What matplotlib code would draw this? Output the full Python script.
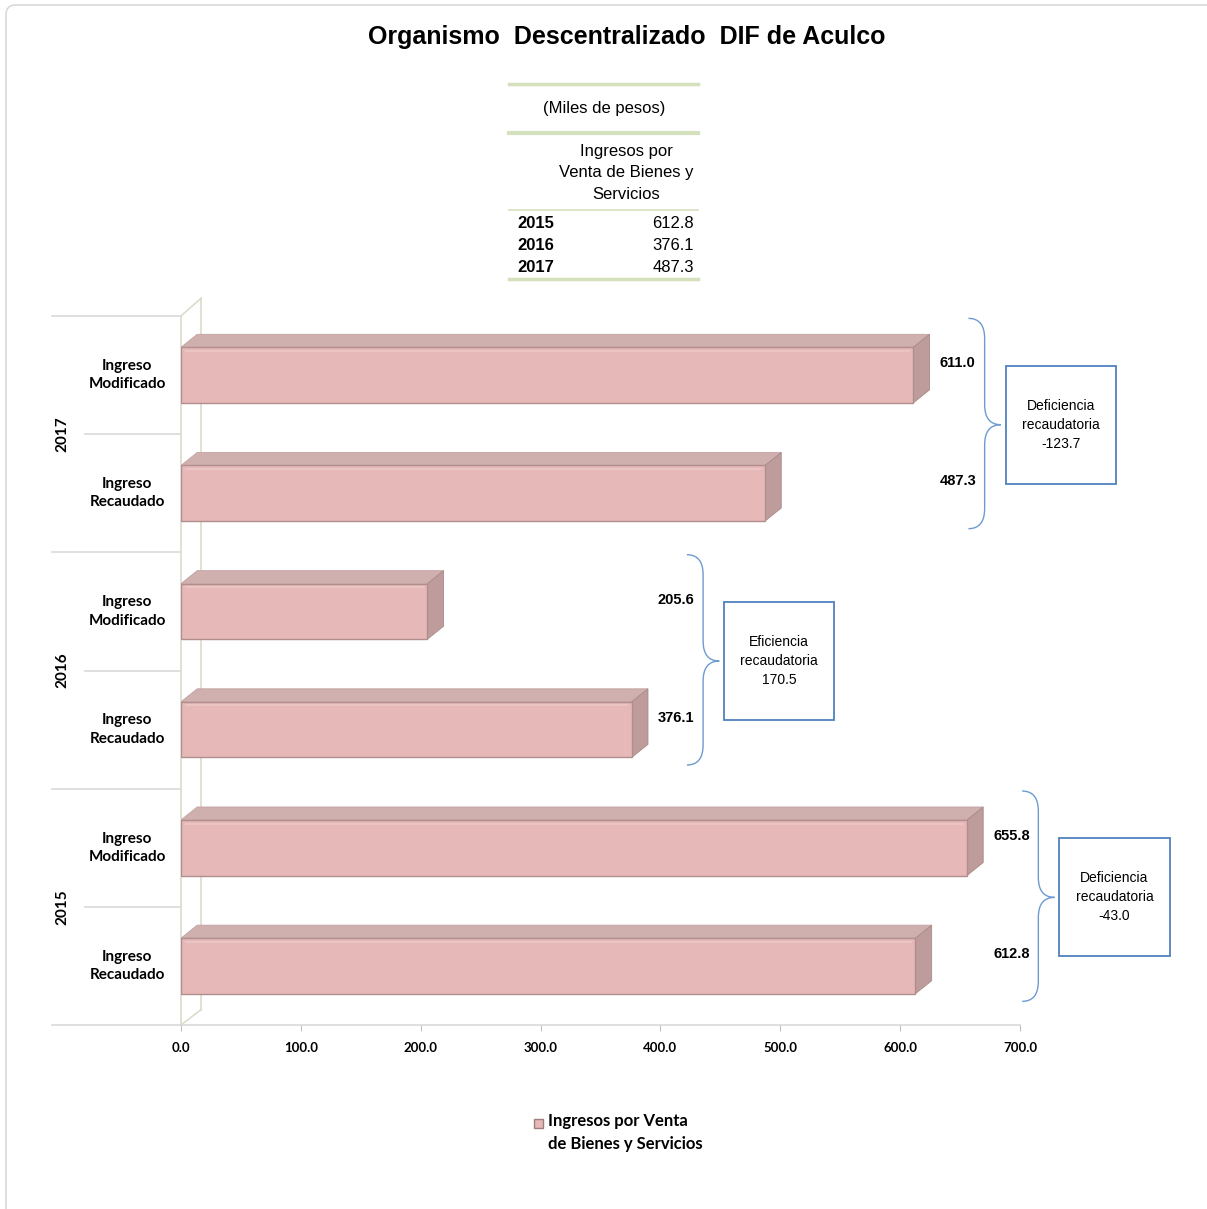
import numpy as np
import matplotlib
matplotlib.use("Agg")
import matplotlib.pyplot as plt
from matplotlib.patches import Polygon, Rectangle, FancyBboxPatch, PathPatch
from matplotlib.path import Path
from matplotlib.lines import Line2D

# data (miles de pesos)
years = ["2015", "2016", "2017"]
modificado = [655.8, 205.6, 611.0]
recaudado = [612.8, 376.1, 487.3]
cat_labels = ["Ingreso\nRecaudado", "Ingreso\nModificado"]
table_values = [612.8, 376.1, 487.3]
xticks = [0, 100, 200, 300, 400, 500, 600, 700]
legend_label = "Ingresos por Venta\nde Bienes y Servicios"

front = "#E6B9B8"
top_c = "#CFB0AF"
side_c = "#BE9C9B"
edge_c = "#B08E8D"
arial = ["Liberation Sans", "DejaVu Sans"]
calib = ["Lato", "DejaVu Sans"]

fig = plt.figure(figsize=(12.07, 12.09), dpi=100)
W, H = 1207, 1209

def fx(px):
    return px / W

def fy(py):
    return 1 - py / H

# frame around whole picture
fig.patches.append(FancyBboxPatch((fx(6), fy(1240)), fx(1240), fy(5) - fy(1240),
                                  boxstyle="round,pad=0,rounding_size=0.008",
                                  transform=fig.transFigure, fill=False, ec="#D9D9D9", lw=1.2))

ax = fig.add_axes([fx(181), fy(1025), fx(1020) - fx(181), fy(316) - fy(1025)])
ax.set_xlim(0, 700)
ax.set_ylim(-0.5, 5.5)

# bar order bottom->top: 2015 Rec, 2015 Mod, 2016 Rec, ...
vals = []
for r, m in zip(recaudado, modificado):
    vals += [r, m]
ypos = np.arange(len(vals))
h = 0.47
dx, dy = 13.5, 0.11  # 3d depth in data units

bars = ax.barh(ypos, vals, height=h, color=front, edgecolor=edge_c, lw=1.0, zorder=4,
               label=legend_label)
for y, v in zip(ypos, vals):
    yt = y + h / 2
    yb = y - h / 2
    ax.add_patch(Polygon([(0, yt), (v, yt), (v + dx, yt + dy), (dx, yt + dy)], closed=True,
                         fc=top_c, ec="#C2A3A2", lw=0.6, zorder=3))
    ax.add_patch(Polygon([(v, yb), (v + dx, yb + dy), (v + dx, yt + dy), (v, yt)], closed=True,
                         fc=side_c, ec="#A88988", lw=0.6, zorder=3))
    # soft highlight along top of the front face
    ax.plot([4, v - 4], [yt - 0.03, yt - 0.03], color="#ECC8C7", lw=1.2, zorder=5)

# back wall
wall_dx, wall_dy = 16.7, 0.15
ax.plot([wall_dx, wall_dx], [-0.5 + 0.13, 5.5 + wall_dy], color="#DCDCCB", lw=1.2, zorder=1, clip_on=False)
ax.plot([0, wall_dx], [5.5, 5.5 + wall_dy], color="#DCDCCB", lw=1.2, zorder=1, clip_on=False)
ax.plot([0, wall_dx], [-0.5, -0.5 + 0.13], color="#DCDCCB", lw=1.2, zorder=1, clip_on=False)

for s in ["top", "right"]:
    ax.spines[s].set_visible(False)
ax.spines["left"].set_color("#DCDCCB")
ax.spines["left"].set_linewidth(1.2)
ax.spines["bottom"].set_color("#D9D9D9")
ax.spines["bottom"].set_linewidth(1.2)

ax.set_yticks([])
ax.set_xticks(xticks)
ax.set_xticklabels([f"{t:.1f}" for t in xticks], fontsize=9.5, fontweight="bold", family=calib)
ax.tick_params(axis="x", length=4, color="#BFBFBF", pad=8)

# category separators and labels
bt = ax.get_yaxis_transform()
for k in range(len(vals) + 1):
    yb = k - 0.5
    x0 = -0.1538 if k % 2 == 0 else -0.1144
    ax.plot([x0, 0], [yb, yb], color="#D9D9D9", lw=1.2, transform=bt, clip_on=False)
for k, y in enumerate(ypos):
    ax.text(-0.064, y, cat_labels[k % 2], transform=bt, ha="center", va="center",
            fontsize=11, fontweight="bold", family=calib, linespacing=1.4)
for i, yr in enumerate(years):
    ax.text(-0.1418, 2 * i + 0.5, yr, transform=bt, ha="center", va="center", rotation=90,
            fontsize=11, fontweight="bold", family=calib)

# value labels, braces and difference boxes
def brace(x0, yb, yt, ym, w=27, c=0.17):
    xm = x0 + w * 0.5
    verts = [(x0, yt), (xm, yt), (xm, yt - c), (xm, ym + c), (xm, ym), (x0 + w, ym),
             (xm, ym), (xm, ym - c), (xm, yb + c), (xm, yb), (x0, yb)]
    codes = [Path.MOVETO, Path.CURVE3, Path.CURVE3, Path.LINETO, Path.CURVE3, Path.CURVE3,
             Path.CURVE3, Path.CURVE3, Path.LINETO, Path.CURVE3, Path.CURVE3]
    return Path(verts, codes)

for i in range(len(years)):
    r, m = recaudado[i], modificado[i]
    top = max(r, m)
    y_r, y_m = 2 * i, 2 * i + 1
    ax.text(top + 37, y_m + 0.1, f"{m:.1f}", ha="center", va="center", fontsize=10.5,
            fontweight="bold", family=arial, clip_on=False)
    ax.text(top + 37, y_r + 0.1, f"{r:.1f}", ha="center", va="center", fontsize=10.5,
            fontweight="bold", family=arial, clip_on=False)
    ymid = 2 * i + 0.58
    bx = top + 46
    ax.add_patch(PathPatch(brace(bx, y_r - 0.3, y_m + 0.48, ymid), fill=False, ec="#6C9BD2",
                           lw=1.0, clip_on=False))
    diff = r - m
    kind = "Eficiencia" if diff > 0 else "Deficiencia"
    boxx = bx + 31
    ax.add_patch(Rectangle((boxx, ymid - 0.5), 92, 1.0, fill=False, ec="#4F81BD", lw=1.3,
                           clip_on=False, zorder=6))
    ax.text(boxx + 46, ymid, f"{kind}\nrecaudatoria\n{diff:.1f}", ha="center", va="center",
            fontsize=10, family=arial, linespacing=1.45, clip_on=False)

# title
fig.text(fx(627), fy(37), "Organismo  Descentralizado  DIF de Aculco", ha="center", va="center",
         fontsize=18, fontweight="bold", family=arial)

# small table
line_c = "#D5E0BC"
for py, lw in [(84, 2.5), (133, 3), (210, 1.2), (279, 2.5)]:
    fig.lines.append(Line2D([fx(509), fx(698)], [fy(py), fy(py)], color=line_c, lw=lw,
                            transform=fig.transFigure))
fig.text(fx(604), fy(109), "(Miles de pesos)", ha="center", va="center", fontsize=12, family=arial)
fig.text(fx(626), fy(173), "Ingresos por\nVenta de Bienes y\nServicios", ha="center", va="center",
         fontsize=12, family=arial, linespacing=1.55)
for i, (yr, v) in enumerate(zip(years, table_values)):
    fig.text(fx(517), fy(224 + 22 * i), yr, ha="left", va="center", fontsize=12, fontweight="bold", family=arial)
    fig.text(fx(694), fy(224 + 22 * i), f"{v:.1f}", ha="right", va="center", fontsize=12, family=arial)

# legend (marker next to first line)
fig.patches.append(Rectangle((fx(534), fy(1128)), fx(9), fy(1119) - fy(1128), fc=front,
                             ec="#9E7F7E", lw=1.0, transform=fig.transFigure))
fig.text(fx(548), fy(1113), bars.get_label(), ha="left", va="top", fontsize=12,
         fontweight="bold", family=calib, linespacing=1.55)

fig.savefig("out.png", dpi=100)
